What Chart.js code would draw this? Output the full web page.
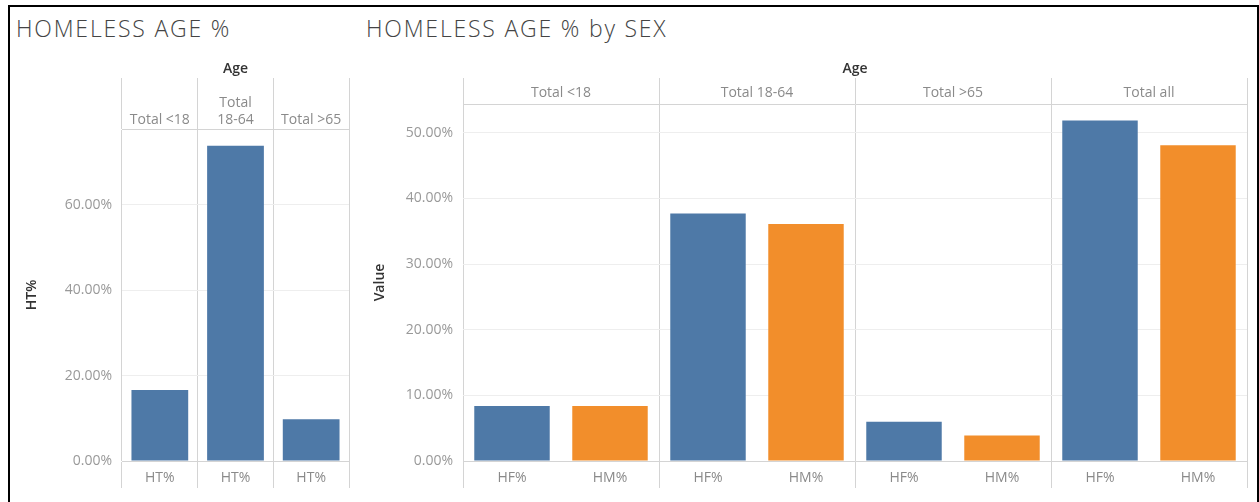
<!DOCTYPE html>
<html>
<head>
<meta charset="utf-8">
<script src="https://cdn.jsdelivr.net/npm/chart.js@4"></script>
<style>
  html, body { margin: 0; padding: 0; background: #fff; width: 1259px; height: 502px; overflow: hidden; }
  #frame { position: absolute; left: 8px; top: 5px; width: 1247px; height: 510px; border: 2px solid #000; border-bottom: none; }
  .ttl { position: absolute; top: 13px; font-family: 'Open Sans', sans-serif; font-weight: 300; font-size: 23px; letter-spacing: 1.8px; color: #444; white-space: nowrap; line-height: 30px; }
  .box { position: absolute; top: 40px; height: 455px; }
</style>
</head>
<body>
<div id="frame"></div>
<div class="ttl" style="left:16px">HOMELESS AGE %</div>
<div class="ttl" style="left:366px">HOMELESS AGE % by SEX</div>
<div class="box" style="left:12px;width:345px"><canvas id="c-age"></canvas></div>
<div class="box" style="left:360px;width:892px"><canvas id="c-sex"></canvas></div>
<script>
// ── data ─────────────────────────────────────────────────────────────────────
const ageGroups = [['Total <18'], ['Total', '18-64'], ['Total >65']];
const ageBars = ['HT%', 'HT%', 'HT%'];
const htValues = [16.6, 73.8, 9.8];

const sexGroups = ['Total <18', 'Total 18-64', 'Total >65', 'Total all'];
const sexBars = ['HF%', 'HM%', 'HF%', 'HM%', 'HF%', 'HM%', 'HF%', 'HM%'];
const sexValues = [8.4, 8.4, 37.7, 36.1, 6.0, 3.9, 51.9, 48.1];

const BLUE = '#4e79a7', ORANGE = '#f28e2b';
const FONT = "'Open Sans', sans-serif";
const DIV = '#d4d4d4';

Chart.defaults.font.family = FONT;
Chart.defaults.animation = false;

function makeChart(id, o) {
  return new Chart(document.getElementById(id).getContext('2d'), {
    type: 'bar',
    data: { labels: o.bars, datasets: [{ data: o.values, backgroundColor: o.colors, borderWidth: 0,
      categoryPercentage: 1, barPercentage: o.barPct }] },
    options: {
      responsive: true, maintainAspectRatio: false,
      layout: { padding: { left: 0, right: o.rightPad, top: 0, bottom: 0 } },
      plugins: { legend: { display: false }, tooltip: { enabled: false } },
      scales: {
        x: {
          position: 'bottom',
          grid: { offset: true, drawOnChartArea: false, tickLength: 27, color: o.bottomGrid, lineWidth: 1 },
          border: { display: true, color: DIV },
          ticks: { color: '#8a8a8a', font: { size: 14 }, padding: -18, maxRotation: 0, autoSkip: false },
          afterFit: s => { s.height = 34; }
        },
        x2: {
          type: 'category', position: 'top', labels: o.groups, offset: true,
          grid: { offset: true, drawOnChartArea: true, tickLength: o.topTick, color: DIV, lineWidth: 1 },
          border: { display: true, color: DIV },
          ticks: { color: '#8a8a8a', font: { size: 14 }, padding: o.topPad, maxRotation: 0, autoSkip: false },
          title: { display: true, text: 'Age', color: '#333', font: { size: 14, weight: '600' }, padding: { top: 21, bottom: 0 } },
          afterFit: s => { s.height = o.topH; }
        },
        y: {
          min: 0, max: o.max,
          grid: { color: '#eeeeee', drawTicks: false },
          border: { display: false },
          ticks: { stepSize: o.step, color: '#999', font: { size: 14 }, padding: 10,
            callback: v => v.toFixed(2) + '%' },
          afterBuildTicks: s => { s.ticks = s.ticks.filter(t => Math.abs(t.value % o.step) < 1e-6); },
          title: { display: true, text: o.yTitle, color: '#333', font: { size: 14, weight: '600' }, padding: { top: 12, bottom: 0 } },
          afterFit: s => { s.width = o.yW; }
        }
      }
    }
  });
}

makeChart('c-age', {
  bars: ageBars, values: htValues, colors: BLUE, barPct: 0.75, rightPad: 8,
  groups: ageGroups, topTick: 51, topPad: -50, topH: 89,
  bottomGrid: DIV, max: 77.7, step: 20, yTitle: 'HT%', yW: 110
});

makeChart('c-sex', {
  bars: sexBars, values: sexValues, colors: sexBars.map(b => b === 'HF%' ? BLUE : ORANGE), barPct: 0.77, rightPad: 5,
  groups: sexGroups, topTick: 26, topPad: -23, topH: 64,
  bottomGrid: c => (c.index === undefined || c.index % 2 === 0) ? DIV : 'rgba(0,0,0,0)',
  max: 54.4, step: 10, yTitle: 'Value', yW: 103
});
</script>
</body>
</html>
